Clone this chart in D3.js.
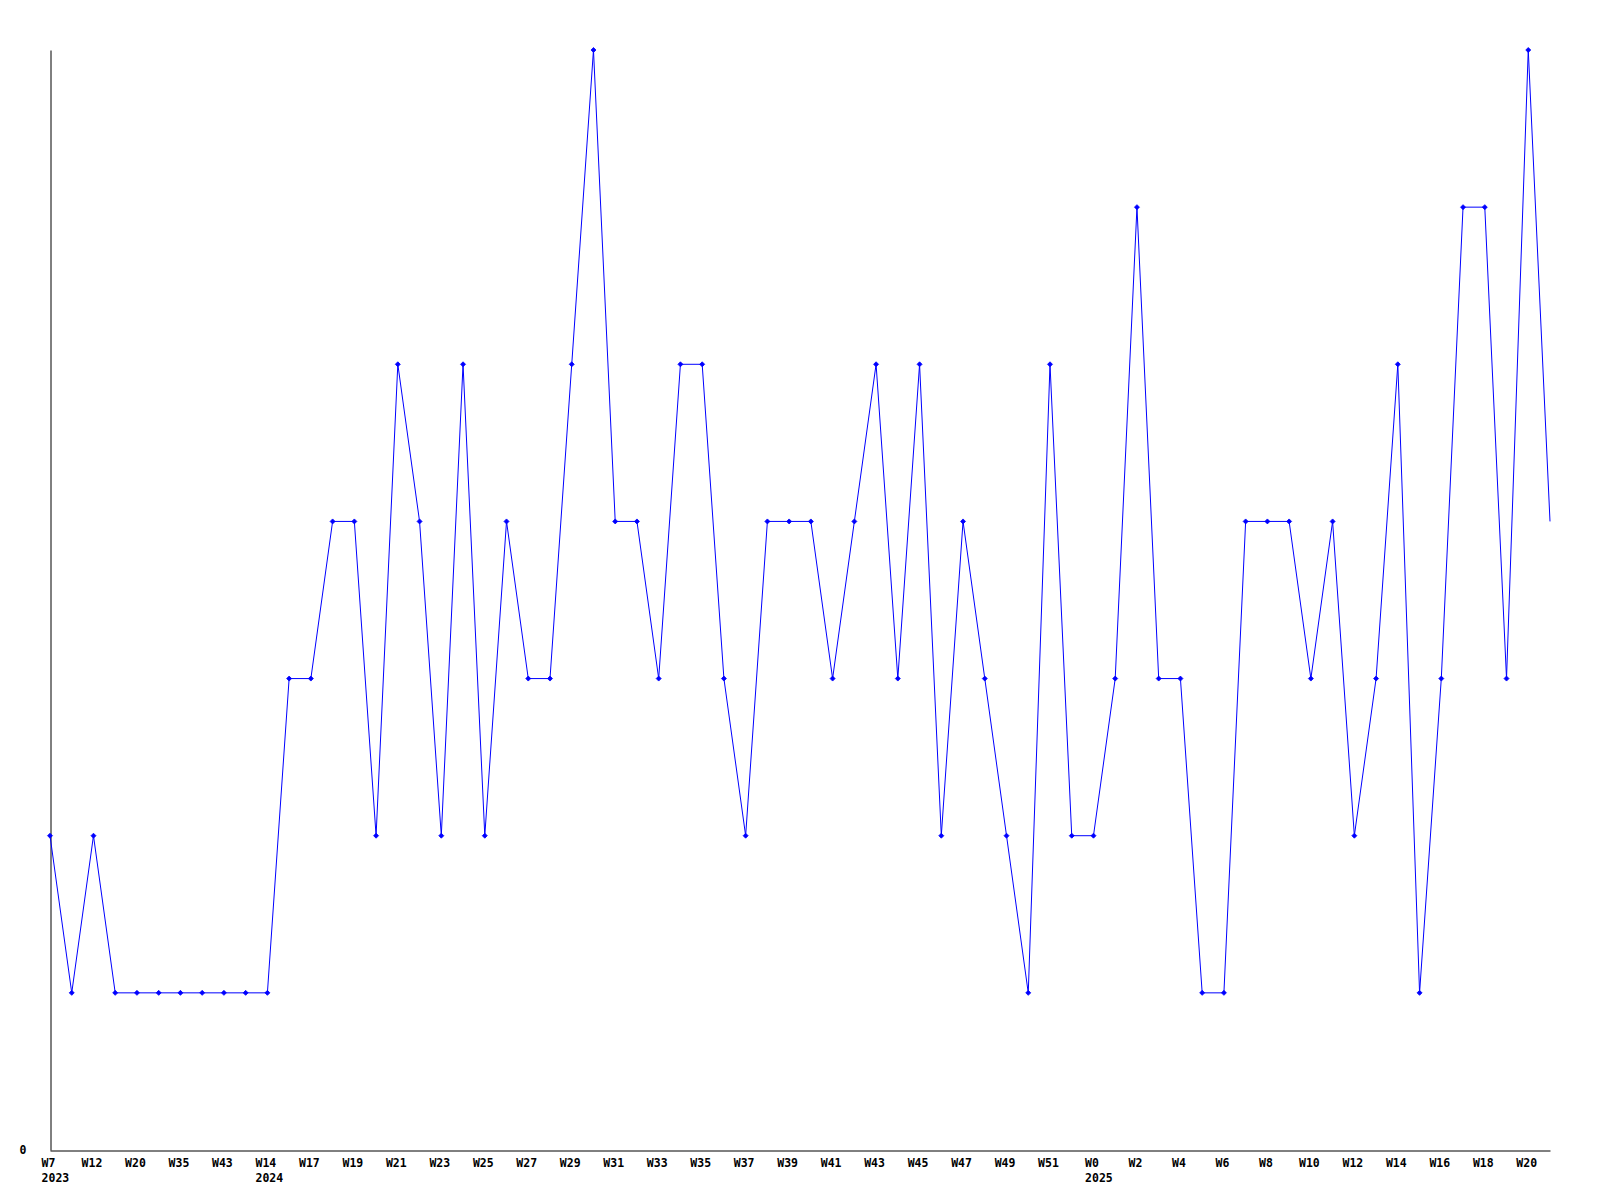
<!DOCTYPE html>
<html>
<head>
<meta charset="utf-8">
<script src="https://cdn.jsdelivr.net/npm/d3@7"></script>
<style>
  html, body { margin: 0; padding: 0; background: #fff; }
  svg { display: block; }
  .lbl { font-family: "DejaVu Sans Mono", monospace; font-weight: bold; font-size: 11.5px; fill: #000; }
</style>
</head>
<body>
<svg id="chart" width="1600" height="1200"></svg>
<script>
// Weekly values (one per point)
const values = [
  2, 1, 2, 1, 1, 1, 1, 1, 1, 1,
  1, 3, 3, 4, 4, 2, 5, 4, 2, 5,
  2, 4, 3, 3, 5, 7, 4, 4, 3, 5,
  5, 3, 2, 4, 4, 4, 3, 4, 5, 3,
  5, 2, 4, 3, 2, 1, 5, 2, 2, 3,
  6, 3, 3, 1, 1, 4, 4, 4, 3, 4,
  2, 3, 5, 1, 3, 6, 6, 3, 7, 4
];
// Labels shown under every other point
const tickLabels = [
  "W7", "W12", "W20", "W35", "W43", "W14", "W17", "W19", "W21", "W23",
  "W25", "W27", "W29", "W31", "W33", "W35", "W37", "W39", "W41", "W43",
  "W45", "W47", "W49", "W51", "W0", "W2", "W4", "W6", "W8", "W10",
  "W12", "W14", "W16", "W18", "W20"
];
// Year labels, keyed by tick label position
const yearTickIndex = [0, 5, 24];
const yearLabels = ["2023", "2024", "2025"];
const yMax = 7;

const svg = d3.select("#chart");
const mLeft = 50, mRight = 1550, mTop = 50, mBottom = 1150;

const x = d3.scaleLinear().domain([0, values.length - 1]).range([mLeft, mRight]);
const y = d3.scaleLinear().domain([0, yMax]).range([mBottom, mTop]);

// Axes
const yAxis = d3.axisLeft(y).tickValues([0]).tickFormat(d3.format("d"))
  .tickSize(0).tickSizeOuter(0).tickPadding(24);
const gy = svg.append("g").attr("transform", `translate(${mLeft + 0.5},0)`).call(yAxis);
gy.attr("font-family", null).attr("font-size", null);
gy.select(".domain").attr("stroke", "#000").attr("stroke-width", 1);
gy.selectAll("text").attr("class", "lbl");

const tickIdx = tickLabels.map((_, i) => i * 2);
const xAxis = d3.axisBottom(x).tickValues(tickIdx)
  .tickFormat((d) => tickLabels[d / 2]).tickSize(0).tickSizeOuter(0);
const gx = svg.append("g").attr("transform", `translate(0,${mBottom + 0.5})`).call(xAxis);
gx.attr("font-family", null).attr("font-size", null);
gx.select(".domain").attr("stroke", "#000").attr("stroke-width", 1);
gx.selectAll("text").attr("class", "lbl").attr("dy", null).attr("y", 16).attr("x", -2);

// Year labels aligned with the start of the week label
gx.selectAll(".tick").each(function (d) {
  const ti = d / 2;
  const yi = yearTickIndex.indexOf(ti);
  if (yi < 0) return;
  const t = d3.select(this).select("text");
  const w = t.node().getComputedTextLength();
  d3.select(this).append("text")
    .attr("class", "lbl")
    .attr("text-anchor", "start")
    .attr("x", -2 - w / 2)
    .attr("y", 31)
    .text(yearLabels[yi]);
});

// Line
const line = d3.line().x((d, i) => x(i)).y((d) => y(d));
svg.append("path")
  .datum(values)
  .attr("fill", "none")
  .attr("stroke", "#0000ff")
  .attr("stroke-width", 1)
  .attr("d", line);

// Markers (the last one falls on the plot edge and is clipped)
svg.append("g").selectAll("path")
  .data(values.slice(0, values.length - 1))
  .join("path")
  .attr("transform", (d, i) => `translate(${x(i)},${y(d)})`)
  .attr("d", "M0,-2.5 L2.5,0 L0,2.5 L-2.5,0 Z")
  .attr("fill", "#0000ff")
  .attr("stroke", "#0000ff")
  .attr("stroke-width", 0.8);
</script>
</body>
</html>
